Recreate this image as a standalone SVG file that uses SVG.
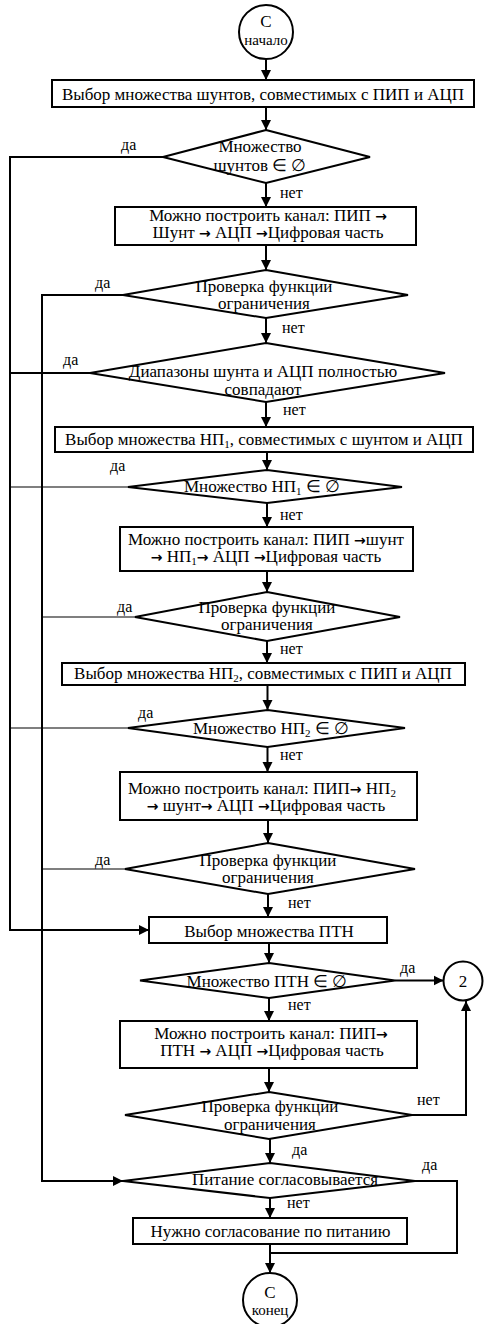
<svg xmlns="http://www.w3.org/2000/svg" width="484" height="1324" viewBox="0 0 484 1324">
<style>
.n{fill:#fff;stroke:#000;stroke-width:2}
.t{font-family:"Liberation Serif","Times New Roman",serif;font-size:17px;fill:#000;text-anchor:middle}
.lb{font-family:"Liberation Serif","Times New Roman",serif;font-size:16px;fill:#000}
.sm{font-size:15px}
.ar{font-family:"DejaVu Sans",sans-serif;font-size:14px;font-weight:bold}
.c{fill:none;stroke:#000;stroke-width:2}
.ct{fill:none;stroke:#000;stroke-width:1.2}
</style>
<defs>
<marker id="ah" viewBox="0 0 10 10" refX="10" refY="5" markerWidth="10" markerHeight="11" markerUnits="userSpaceOnUse" orient="auto">
<path d="M0,0 L10,5 L0,10 z" fill="#000"/>
</marker>
</defs>
<rect width="484" height="1324" fill="#fff"/>
<g id="connectors">
<line class="c" x1="266" y1="59" x2="266" y2="80" marker-end="url(#ah)"/>
<line class="c" x1="266" y1="107" x2="266" y2="130" marker-end="url(#ah)"/>
<line class="c" x1="266" y1="183" x2="266" y2="207" marker-end="url(#ah)"/>
<line class="c" x1="266" y1="245" x2="266" y2="270" marker-end="url(#ah)"/>
<line class="c" x1="266" y1="318" x2="266" y2="343" marker-end="url(#ah)"/>
<line class="c" x1="266" y1="402" x2="266" y2="427" marker-end="url(#ah)"/>
<line class="c" x1="267" y1="452" x2="267" y2="470" marker-end="url(#ah)"/>
<line class="c" x1="267" y1="503" x2="267" y2="527" marker-end="url(#ah)"/>
<line class="c" x1="267" y1="571" x2="267" y2="592" marker-end="url(#ah)"/>
<line class="c" x1="267" y1="641" x2="267" y2="663" marker-end="url(#ah)"/>
<line class="c" x1="267.5" y1="685" x2="267.5" y2="710" marker-end="url(#ah)"/>
<line class="c" x1="267.5" y1="747" x2="267.5" y2="772" marker-end="url(#ah)"/>
<line class="c" x1="268" y1="820" x2="268" y2="843" marker-end="url(#ah)"/>
<line class="c" x1="268" y1="894" x2="268" y2="917" marker-end="url(#ah)"/>
<line class="c" x1="269" y1="943" x2="269" y2="963" marker-end="url(#ah)"/>
<line class="c" x1="269" y1="998" x2="269" y2="1021" marker-end="url(#ah)"/>
<line class="c" x1="269" y1="1068" x2="269" y2="1092" marker-end="url(#ah)"/>
<line class="c" x1="270" y1="1139" x2="270" y2="1163" marker-end="url(#ah)"/>
<line class="c" x1="270" y1="1198" x2="270" y2="1218" marker-end="url(#ah)"/>
<line class="c" x1="270" y1="1244" x2="270" y2="1273" marker-end="url(#ah)"/>
<polyline class="c" points="163,157 10,157 10,930 149,930" marker-end="url(#ah)"/>
<polyline class="c" points="123,295 42,295 42,1181 123,1181" marker-end="url(#ah)"/>
<line class="c" x1="90" y1="373" x2="10" y2="373"/>
<line class="ct" x1="128" y1="487" x2="10" y2="487"/>
<line class="ct" x1="135" y1="617" x2="42" y2="617"/>
<line class="ct" x1="128" y1="728" x2="10" y2="728"/>
<line class="ct" x1="125" y1="869" x2="42" y2="869"/>
<line class="c" x1="395" y1="980.5" x2="443.5" y2="980.5" marker-end="url(#ah)"/>
<polyline class="c" points="412,1115 466,1115 466,1001" marker-end="url(#ah)"/>
<polyline class="c" points="415,1181 457,1181 457,1253 270,1253"/>
</g>
<g id="start">
<circle class="n" cx="266" cy="32" r="27"/>
<text class="t" x="266" y="27">С</text>
<text class="t sm" x="266" y="45">начало</text>
</g>
<g id="b1">
<rect class="n" x="52" y="80" width="422" height="27"/>
<text class="t" x="263" y="100">Выбор множества шунтов, совместимых с ПИП и АЦП</text>
</g>
<g id="d1">
<polygon class="n" points="266,130 370,157 266,183 163,157"/>
<text class="t" x="260" y="152">Множество</text>
<text class="t" x="260" y="171">шунтов ∈ ∅</text>
<text class="lb" x="121" y="150">да</text>
<text class="lb" x="280" y="198">нет</text>
</g>
<g id="b2">
<rect class="n" x="115" y="207" width="301" height="38"/>
<text class="t" x="268" y="221">Можно построить канал: ПИП <tspan class="ar">→</tspan></text>
<text class="t" x="268" y="238">Шунт <tspan class="ar">→</tspan> АЦП <tspan class="ar">→</tspan>Цифровая часть</text>
</g>
<g id="d2">
<polygon class="n" points="266,270 408,295 266,318 123,295"/>
<text class="t" x="264" y="292">Проверка функции</text>
<text class="t" x="264" y="309">ограничения</text>
<text class="lb" x="95" y="288">да</text>
<text class="lb" x="282" y="333">нет</text>
</g>
<g id="d3">
<polygon class="n" points="266,343 445,373 266,402 90,373"/>
<text class="t" x="263" y="377">Диапазоны шунта и АЦП полностью</text>
<text class="t" x="263" y="395">совпадают</text>
<text class="lb" x="63" y="365">да</text>
<text class="lb" x="283" y="415">нет</text>
</g>
<g id="b3">
<rect class="n" x="55" y="427" width="418" height="25"/>
<text class="t" x="264" y="444.5">Выбор множества НП<tspan font-size="11" dy="3">1</tspan><tspan dy="-3">, совместимых с шунтом и АЦП</tspan></text>
</g>
<g id="d4">
<polygon class="n" points="267,470 402,487 267,503 128,487"/>
<text class="t" x="262" y="491.5">Множество НП<tspan font-size="11" dy="3">1</tspan><tspan dy="-3"> ∈ ∅</tspan></text>
<text class="lb" x="110" y="471">да</text>
<text class="lb" x="280" y="520">нет</text>
</g>
<g id="b4">
<rect class="n" x="120" y="527" width="293" height="44"/>
<text class="t" x="266" y="544.5">Можно построить канал: ПИП <tspan class="ar">→</tspan>шунт</text>
<text class="t" x="266" y="562"><tspan class="ar">→</tspan> НП<tspan font-size="11" dy="3">1</tspan><tspan dy="-3" class="ar">→</tspan> АЦП <tspan class="ar">→</tspan>Цифровая часть</text>
</g>
<g id="d5">
<polygon class="n" points="267,592 400,617 267,641 135,617"/>
<text class="t" x="267" y="613">Проверка функции</text>
<text class="t" x="267" y="630">ограничения</text>
<text class="lb" x="117" y="612">да</text>
<text class="lb" x="280" y="654">нет</text>
</g>
<g id="b5">
<rect class="n" x="62" y="663" width="403" height="22"/>
<text class="t" x="263" y="679">Выбор множества НП<tspan font-size="11" dy="3">2</tspan><tspan dy="-3">, совместимых с ПИП и АЦП</tspan></text>
</g>
<g id="d6">
<polygon class="n" points="267.5,710 405,728 267.5,747 128,728"/>
<text class="t" x="271" y="733.5">Множество НП<tspan font-size="11" dy="3">2</tspan><tspan dy="-3"> ∈ ∅</tspan></text>
<text class="lb" x="138" y="718">да</text>
<text class="lb" x="280" y="760">нет</text>
</g>
<g id="b6">
<rect class="n" x="120" y="772" width="297" height="48"/>
<text class="t" x="262" y="794">Можно построить канал: ПИП<tspan class="ar">→</tspan> НП<tspan font-size="11" dy="3">2</tspan></text>
<text class="t" x="266" y="811"><tspan class="ar">→</tspan> шунт<tspan class="ar">→</tspan> АЦП <tspan class="ar">→</tspan>Цифровая часть</text>
</g>
<g id="d7">
<polygon class="n" points="268,843 415,869 268,894 125,869"/>
<text class="t" x="268" y="866">Проверка функции</text>
<text class="t" x="268" y="883">ограничения</text>
<text class="lb" x="95" y="865">да</text>
<text class="lb" x="288" y="908">нет</text>
</g>
<g id="b7">
<rect class="n" x="149" y="917" width="238" height="26"/>
<text class="t" x="269" y="936.5">Выбор множества ПТН</text>
</g>
<g id="d8">
<polygon class="n" points="269,963 395,980.5 269,998 140,980.5"/>
<text class="t" x="267" y="987">Множество ПТН ∈ ∅</text>
<text class="lb" x="400" y="973">да</text>
<text class="lb" x="288" y="1010">нет</text>
</g>
<g id="c2">
<circle class="n" cx="463" cy="981" r="19.5"/>
<text class="t" x="463" y="987" font-size="16">2</text>
</g>
<g id="b8">
<rect class="n" x="120" y="1021" width="297" height="47"/>
<text class="t" x="271" y="1038.5">Можно построить канал: ПИП<tspan class="ar">→</tspan></text>
<text class="t" x="272" y="1055.5">ПТН <tspan class="ar">→</tspan> АЦП <tspan class="ar">→</tspan>Цифровая часть</text>
</g>
<g id="d9">
<polygon class="n" points="269,1092 412,1115 269,1139 125,1115"/>
<text class="t" x="270" y="1112">Проверка функции</text>
<text class="t" x="270" y="1129.5">ограничения</text>
<text class="lb" x="417" y="1105">нет</text>
<text class="lb" x="292" y="1155">да</text>
</g>
<g id="d10">
<polygon class="n" points="270,1163 415,1181 270,1198 123,1181"/>
<text class="t" x="285" y="1185">Питание согласовывается</text>
<text class="lb" x="422" y="1170">да</text>
<text class="lb" x="287" y="1208">нет</text>
</g>
<g id="b9">
<rect class="n" x="133" y="1218" width="274" height="26"/>
<text class="t" x="270.5" y="1236.5">Нужно согласование по питанию</text>
</g>
<g id="end">
<circle class="n" cx="270" cy="1300" r="27"/>
<text class="t" x="270" y="1298">С</text>
<text class="t sm" x="270" y="1315">конец</text>
</g>
</svg>
